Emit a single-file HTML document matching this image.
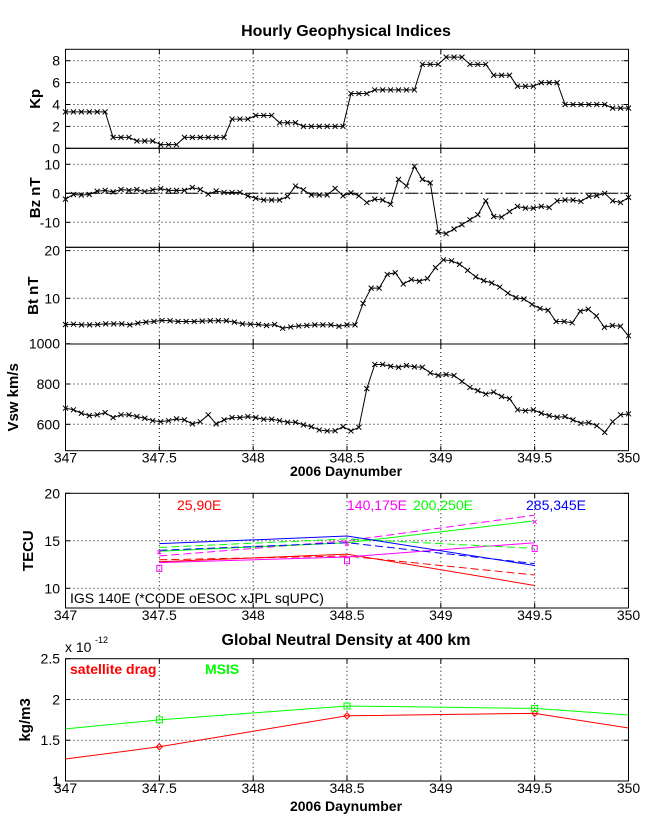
<!DOCTYPE html>
<html><head><meta charset="utf-8"><style>
html,body{margin:0;padding:0;background:#fff;}
svg{display:block;font-family:"Liberation Sans",Arial,sans-serif;}
</style></head><body>
<svg id="fig" width="647" height="822" viewBox="0 0 647 822" xmlns="http://www.w3.org/2000/svg">
<text x="346" y="36" font-size="16" font-weight="bold" text-anchor="middle">Hourly Geophysical Indices</text>
<text x="346" y="645" font-size="16" font-weight="bold" text-anchor="middle">Global Neutral Density at 400 km</text>
</svg>
<script>
// ---- data ----
const kp3h = [3.33,3.33,1,0.67,0.33,1,1,2.67,3,2.33,2,2,5,5.33,5.33,7.67,8.33,7.67,6.67,5.67,6,4,4,3.67];
const bzVals = [-2,-0.4,-0.6,-0.4,0.7,1.0,0.5,1.3,1.0,1.3,0.6,1.2,1.6,1.0,1.0,1.0,2.0,1.3,-0.3,0.8,0.3,0.3,0.3,-0.9,-1.7,-2.3,-2.3,-2.3,-1.1,2.5,1.2,-0.6,-0.6,-0.6,1.7,-0.9,0.2,-0.9,-3.2,-2.0,-2.3,-3.8,4.8,2.5,9.3,4.8,3.6,-13.4,-13.9,-12.3,-10.8,-9.1,-7.4,-2.6,-8.0,-8.2,-6.3,-4.5,-5.1,-5.1,-4.5,-4.9,-2.6,-2.3,-2.3,-2.8,-1.1,-0.8,0,-2.6,-3.2,-1.4];
const btVals = [4.5,4.57,4.43,4.43,4.5,4.64,4.64,4.64,4.43,4.79,5.0,5.14,5.36,5.29,5.14,5.14,5.14,5.21,5.29,5.29,5.29,5.0,4.64,4.57,4.5,4.29,4.5,3.71,4.0,4.21,4.29,4.43,4.43,4.43,4.14,4.43,4.43,8.93,12.14,12.14,15,15.36,13,13.93,13.57,14.14,16.43,18.07,17.86,17.14,15.86,14.5,13.71,13.21,12.36,11.07,10.14,9.86,8.71,7.86,7.5,5.14,5.14,4.86,7.29,7.71,6.29,3.93,4.29,4.14,2.14];
const vswVals = [680,672,655,643,647,658,633,647,647,638,630,618,613,618,627,622,602,613,647,602,622,633,633,638,633,625,625,618,610,610,597,588,572,567,568,588,567,585,777,897,897,888,883,892,885,883,855,843,847,842,813,783,767,750,760,738,727,672,667,672,655,643,635,638,622,605,608,593,560,613,647,652];
const tecDays = [347.5,348.5,349.5];
const tecRedSolid = [12.8,13.6,10.3];
const tecRedDashed = [13.0,13.4,11.4];
const tecMagSolid = [12.7,13.3,14.8];
const tecMagDashed = [13.4,15.0,17.7];
const tecGreenSolid = [13.9,14.8,17.1];
const tecGreenDashed = [14.3,15.2,14.2];
const tecBlueSolid = [14.7,15.5,12.4];
const tecBlueDashed = [14.0,14.8,12.6];
const tecSquares = [12.1,12.9,14.2];
const tecCrosses = [13.8,14.7,17.0];
const densDays = [347,347.5,348.5,349.5,350];
const densDrag = [1.27,1.42,1.80,1.83,1.65];
const densMsis = [1.64,1.75,1.92,1.89,1.81];
const densMarkerDays = [347.5,348.5,349.5];
const densDragMarks = [1.42,1.80,1.83];
const densMsisMarks = [1.75,1.92,1.89];
const xTicks = [347,347.5,348,348.5,349,349.5,350];
const xTickLabels = ["347","347.5","348","348.5","349","349.5","350"];

// ---- helpers ----
const NS="http://www.w3.org/2000/svg";
const svg=document.getElementById('fig');
function mk(tag,attrs,parent){const e=document.createElementNS(NS,tag);for(const k in attrs)e.setAttribute(k,attrs[k]);(parent||svg).appendChild(e);return e;}
const X0=65.5,X1=628.5;
function xs(d){return X0+(d-347)/3*(X1-X0);}
function lin(v0,y0,v1,y1){return v=>y0+(v-v0)*(y1-y0)/(v1-v0);}

function panel(name,top,bot,ys,yticks,ylabels,label,labelX,showX){
  const g=mk('g',{});
  
  
  for(let i=1;i<xTicks.length-1;i++){
    const l=mk('line',{x1:xs(xTicks[i]),x2:xs(xTicks[i]),y1:top,y2:bot,stroke:'#000','stroke-width':1,'stroke-dasharray':'1,3'},g);
    
    
    mk('line',{x1:xs(xTicks[i]),x2:xs(xTicks[i]),y1:bot,y2:bot-5,stroke:'#000'},g);
    mk('line',{x1:xs(xTicks[i]),x2:xs(xTicks[i]),y1:top,y2:top+5,stroke:'#000'},g);
  }
  yticks.forEach((t,i)=>{
    const y=ys(t);
    if(y>top+1&&y<bot-1){
      const l=mk('line',{x1:X0,x2:X1,y1:y,y2:y,stroke:'#000','stroke-dasharray':'1,3'},g);
      
      
    }
    mk('line',{x1:X0,x2:X0+5,y1:y,y2:y,stroke:'#000'},g);
    mk('line',{x1:X1,x2:X1-5,y1:y,y2:y,stroke:'#000'},g);
    const tx=mk('text',{x:60,y:y+5,'font-size':14,'text-anchor':'end'},g);
    tx.textContent=ylabels[i];
    
    
  });
  const r=mk('rect',{x:X0,y:top,width:X1-X0,height:bot-top,fill:'none',stroke:'#000'},g);
  
  
  const cy=(top+bot)/2;
  const lb=mk('text',{x:labelX,y:cy,'font-size':15,'font-weight':'bold','text-anchor':'middle',transform:`rotate(-90 ${labelX} ${cy})`},g);
  lb.textContent=label;
  
  
  if(showX){
    xTicks.forEach((t,i)=>{
      const tx=mk('text',{x:xs(t),y:bot+12,'font-size':14,'text-anchor':'middle'},g);
      tx.textContent=xTickLabels[i];
      
      
    });
  }
  return g;
}
function series(g,name,days,vals,ys,color,dash){
  const p=mk('polyline',{points:days.map((d,i)=>xs(d)+','+ys(vals[i])).join(' '),fill:'none',stroke:color,'stroke-width':1},g);
  if(dash)p.setAttribute('stroke-dasharray',dash);
  
  
  return p;
}
function crosses(g,days,vals,ys,color,s){
  days.forEach((d,i)=>{
    const x=xs(d),y=ys(vals[i]);
    const m=mk('path',{d:`M${x-s},${y-s}L${x+s},${y+s}M${x-s},${y+s}L${x+s},${y-s}`,stroke:color,'stroke-width':1,fill:'none'},g);
    
    
  });
}
function hourDays(n){const a=[];for(let i=0;i<n;i++)a.push(347+3*i/(n-1));return a;}

// ---- Kp ----
const kpH=[];kp3h.forEach(v=>{kpH.push(v,v,v);});
const ysKp=lin(0,148.3,8,60.7);
let g=panel('kp',49.3,148.3,ysKp,[0,2,4,6,8],['0','2','4','6','8'],'Kp',40,false);
series(g,'kp-line',hourDays(kpH.length),kpH,ysKp,'#000');
crosses(g,hourDays(kpH.length),kpH,ysKp,'#000',2.5);

// ---- Bz ----
const ysBz=lin(0,193.3,10,164.3);
g=panel('bz',148.3,247.3,ysBz,[-10,0,10],['-10','0','10'],'Bz nT',40,false);
const z=mk('line',{x1:X0,x2:X1,y1:ysBz(0),y2:ysBz(0),stroke:'#000','stroke-dasharray':'12,3,2,3'},g);


series(g,'bz-line',hourDays(bzVals.length),bzVals,ysBz,'#000');
crosses(g,hourDays(bzVals.length),bzVals,ysBz,'#000',2.5);

// ---- Bt ----
const ysBt=lin(10,298.3,20,250.6);
g=panel('bt',247.3,344,ysBt,[10,20],['10','20'],'Bt nT',38,false);
series(g,'bt-line',hourDays(btVals.length),btVals,ysBt,'#000');
crosses(g,hourDays(btVals.length),btVals,ysBt,'#000',2.5);

// ---- Vsw ----
const ysV=lin(600,424.3,800,384);
g=panel('vsw',344,450.7,ysV,[600,800,1000],['600','800','1000'],'Vsw km/s',18,true);
series(g,'vsw-line',hourDays(vswVals.length),vswVals,ysV,'#000');
crosses(g,hourDays(vswVals.length),vswVals,ysV,'#000',2.5);
let xl=mk('text',{x:346,y:476,'font-size':14,'font-weight':'bold','text-anchor':'middle'});
xl.textContent='2006 Daynumber';



// ---- TECU ----
const ysT=lin(10,588.3,20,493.3);
g=panel('tecu',493.3,608,ysT,[10,15,20],['10','15','20'],'TECU',33,true);
series(g,'tec-red-solid',tecDays,tecRedSolid,ysT,'#f00');
series(g,'tec-red-dashed',tecDays,tecRedDashed,ysT,'#f00','8,4');
series(g,'tec-magenta-solid',tecDays,tecMagSolid,ysT,'#f0f');
series(g,'tec-magenta-dashed',tecDays,tecMagDashed,ysT,'#f0f','8,4');
series(g,'tec-green-solid',tecDays,tecGreenSolid,ysT,'#0f0');
series(g,'tec-green-dashed',tecDays,tecGreenDashed,ysT,'#0f0','8,4');
series(g,'tec-blue-solid',tecDays,tecBlueSolid,ysT,'#00f');
series(g,'tec-blue-dashed',tecDays,tecBlueDashed,ysT,'#00f','8,4');
tecDays.forEach((d,i)=>{
  const s=mk('rect',{x:xs(d)-2.5,y:ysT(tecSquares[i])-3,width:5,height:6,fill:'none',stroke:'#f0f'},g);
  
  
});
crosses(g,tecDays,tecCrosses,ysT,'#f0f',2);
[['25,90E',177,'#f00'],['140,175E',347,'#f0f'],['200,250E',413,'#0f0'],['285,345E',526,'#00f']].forEach(a=>{
  const t=mk('text',{x:a[1],y:510,'font-size':14,fill:a[2]},g);
  t.textContent=a[0];
  
  
});
let lg=mk('text',{x:70,y:603,'font-size':14},g);
lg.textContent='IGS 140E (*CODE oESOC xJPL sqUPC)';



// ---- Density ----
const ysD=lin(1,781,2.5,658.7);
g=panel('density',658.7,781,ysD,[1,1.5,2,2.5],['1','1.5','2','2.5'],'kg/m3',30,true);
series(g,'density-satellite-drag-line',densDays,densDrag,ysD,'#f00');
series(g,'density-msis-line',densDays,densMsis,ysD,'#0f0');
densMarkerDays.forEach((d,i)=>{
  const c=mk('path',{d:`M${xs(d)},${ysD(densDragMarks[i])-3}l3,3l-3,3l-3,-3z`,fill:'none',stroke:'#f00'},g);
  
  
  const s=mk('rect',{x:xs(d)-3,y:ysD(densMsisMarks[i])-3,width:6,height:6,fill:'none',stroke:'#0f0'},g);
  
  
});
let e=mk('text',{x:65,y:652,'font-size':14},g);
e.textContent='x 10';


let e2=mk('text',{x:95,y:643,'font-size':9},g);
e2.textContent='-12';


let l1=mk('text',{x:70,y:674,'font-size':14,'font-weight':'bold',fill:'#f00'},g);
l1.textContent='satellite drag';


let l2=mk('text',{x:205,y:674,'font-size':14,'font-weight':'bold',fill:'#0f0'},g);
l2.textContent='MSIS';


let xl2=mk('text',{x:346,y:811,'font-size':14,'font-weight':'bold','text-anchor':'middle'});
xl2.textContent='2006 Daynumber';


</script>
</body></html>
